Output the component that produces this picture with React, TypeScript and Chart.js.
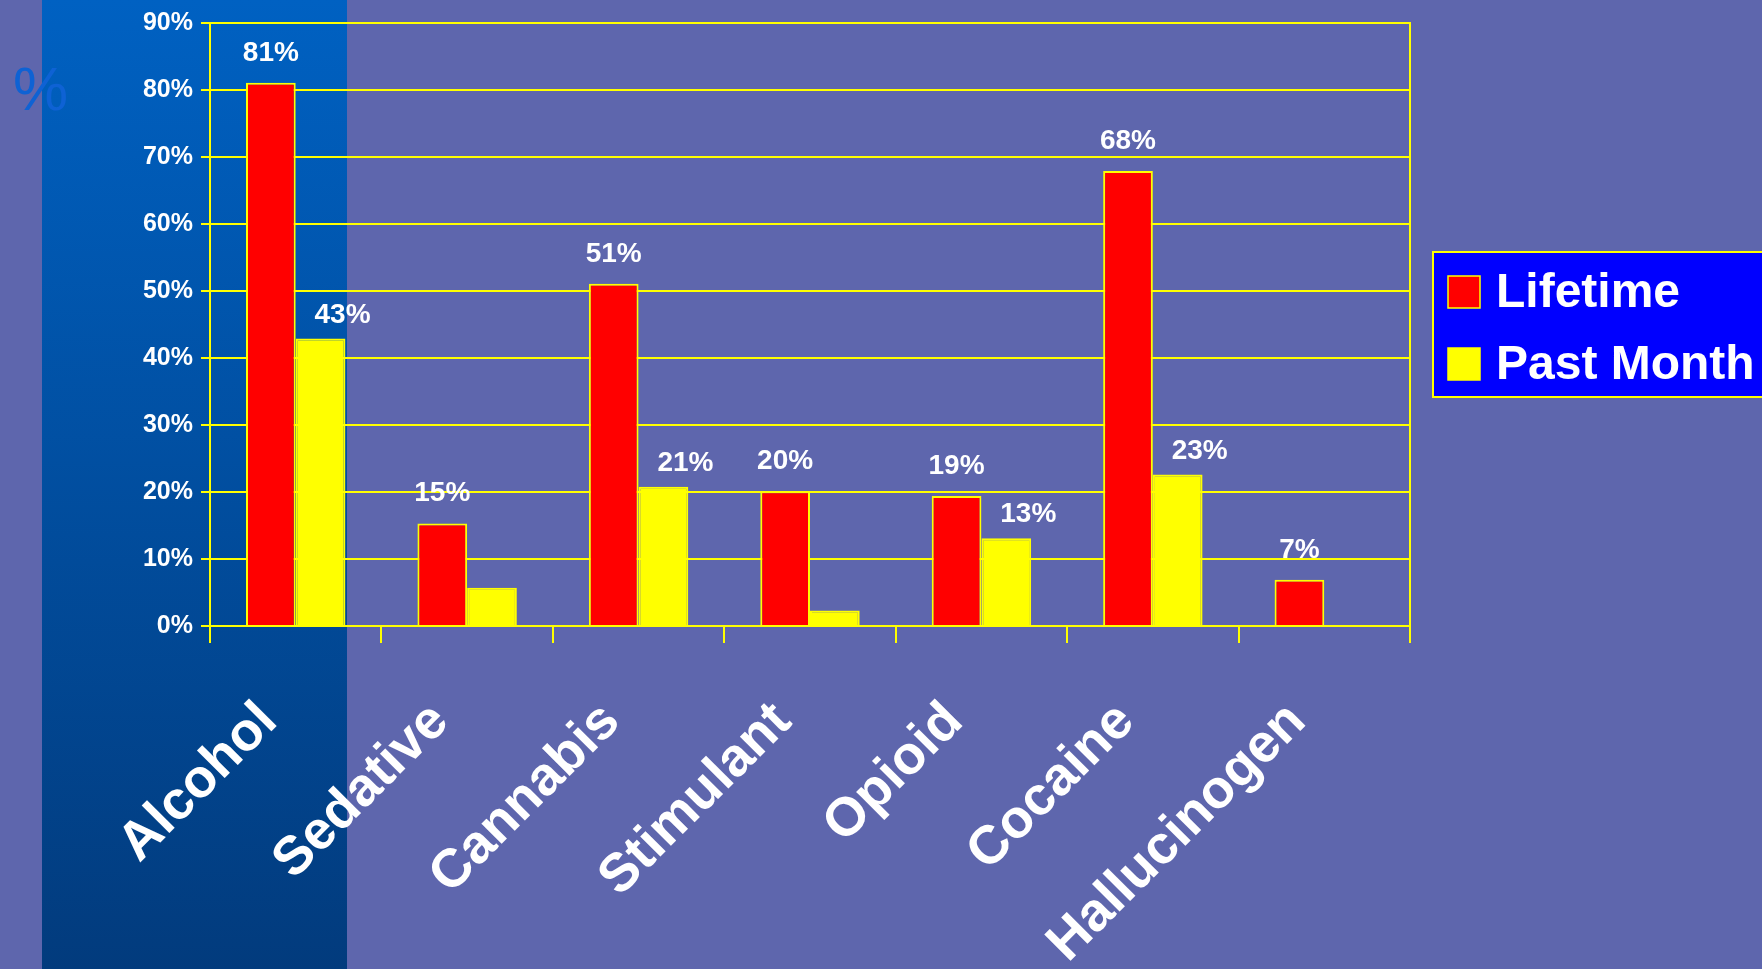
import React, { useEffect, useRef } from "react";
import { Chart, registerables } from "chart.js";

Chart.register(...registerables);

// ---- data ----
const categories = ["Alcohol", "Sedative", "Cannabis", "Stimulant", "Opioid", "Cocaine", "Hallucinogen"];
const lifetime = [81.1, 15.3, 51.1, 20.1, 19.4, 67.9, 6.9];
const pastMonth = [42.9, 5.7, 20.8, 2.3, 13.1, 22.6, 0];
const lifetimeLabels = ["81%", "15%", "51%", "20%", "19%", "68%", "7%"];
const pastMonthLabels = ["43%", "", "21%", "", "13%", "23%", ""];
const seriesNames = ["Lifetime", "Past Month"];
const yMin = 0;
const yMax = 90;
const yStep = 10;

// ---- styles ----
const FONT = '"Liberation Sans", Arial, Helvetica, sans-serif';
const YELLOW = "#FFFF00";
const RED = "#FF0000";
const WHITE = "#FFFFFF";
const PAGE_BG = "rgb(94,102,173)";

const dataLabelsPlugin = {
  id: "dataLabels",
  afterDatasetsDraw(chart: any) {
    const { ctx } = chart;
    const sets = [lifetimeLabels, pastMonthLabels];
    const offs = [
      { dx: 0, dy: 22 },
      { dx: 22, dy: 16 },
    ];
    ctx.save();
    ctx.fillStyle = WHITE;
    ctx.font = `bold 28px ${FONT}`;
    ctx.textAlign = "center";
    ctx.textBaseline = "alphabetic";
    chart.data.datasets.forEach((_: any, i: number) => {
      const meta = chart.getDatasetMeta(i);
      meta.data.forEach((bar: any, j: number) => {
        const t = sets[i][j];
        if (!t) return;
        ctx.fillText(t, bar.x + offs[i].dx, bar.y - offs[i].dy);
      });
    });
    ctx.restore();
  },
};

const framePlugin = {
  id: "frame",
  afterDraw(chart: any) {
    const { ctx, chartArea } = chart;
    ctx.save();
    ctx.strokeStyle = YELLOW;
    ctx.lineWidth = 2;
    ctx.beginPath();
    ctx.moveTo(chartArea.right, chartArea.top - 1);
    ctx.lineTo(chartArea.right, chartArea.bottom);
    ctx.stroke();
    ctx.restore();
  },
};

const legendPlugin = {
  id: "boxLegend",
  afterDraw(chart: any) {
    const { ctx } = chart;
    const bx = 1433, by = 252, bw = 345, bh = 145;
    ctx.save();
    ctx.fillStyle = "#0000FF";
    ctx.fillRect(bx, by, bw, bh);
    ctx.strokeStyle = YELLOW;
    ctx.lineWidth = 2;
    ctx.strokeRect(bx, by, bw, bh);
    chart.data.datasets.forEach((ds: any, i: number) => {
      const yc = 292 + i * 72;
      ctx.fillStyle = ds.backgroundColor;
      ctx.fillRect(1448, yc - 16, 32, 32);
      ctx.strokeStyle = YELLOW;
      ctx.lineWidth = 1.5;
      ctx.strokeRect(1448, yc - 16, 32, 32);
      ctx.fillStyle = WHITE;
      ctx.font = `bold 48px ${FONT}`;
      ctx.textAlign = "left";
      ctx.textBaseline = "middle";
      ctx.fillText(ds.label, 1496, yc + 2);
    });
    ctx.restore();
  },
};

export default function App() {
  const canvasRef = useRef<HTMLCanvasElement | null>(null);

  useEffect(() => {
    const canvas = canvasRef.current;
    if (!canvas) return;
    const chart = new Chart(canvas, {
      type: "bar",
      data: {
        labels: categories,
        datasets: [
          {
            label: seriesNames[0],
            data: lifetime,
            backgroundColor: RED,
            borderColor: YELLOW,
            borderWidth: 2,
            categoryPercentage: 0.58,
            barPercentage: 1.0,
          },
          {
            label: seriesNames[1],
            data: pastMonth,
            backgroundColor: YELLOW,
            borderColor: YELLOW,
            borderWidth: 2,
            categoryPercentage: 0.58,
            barPercentage: 1.0,
          },
        ],
      },
      options: {
        responsive: false,
        animation: false,
        layout: { padding: { left: 0, right: 352, top: 22, bottom: 0 } },
        plugins: {
          legend: { display: false },
          tooltip: { enabled: false },
        },
        scales: {
          x: {
            grid: {
              offset: true,
              drawOnChartArea: false,
              drawTicks: true,
              tickLength: 17,
              color: YELLOW,
              lineWidth: 2,
            },
            border: { color: YELLOW, width: 2 },
            ticks: {
              color: WHITE,
              font: { family: FONT, size: 54, weight: "bold" },
              minRotation: 45,
              maxRotation: 45,
              autoSkip: false,
              padding: 47,
              labelOffset: -27,
            },
            afterFit: (s: any) => {
              s.height = 343;
            },
          },
          y: {
            min: yMin,
            max: yMax,
            ticks: {
              stepSize: yStep,
              color: WHITE,
              font: { family: FONT, size: 25, weight: "bold" },
              padding: 8,
              callback: (v: any) => `${v}%`,
            },
            grid: { color: YELLOW, lineWidth: 2, tickLength: 9 },
            border: { color: YELLOW, width: 2 },
            afterFit: (s: any) => {
              s.width = 210;
            },
          },
        },
      },
      plugins: [dataLabelsPlugin, framePlugin, legendPlugin],
    } as any);
    return () => chart.destroy();
  }, []);

  return (
    <div
      style={{
        position: "fixed",
        left: 0,
        top: 0,
        width: 1762,
        height: 969,
        background: PAGE_BG,
        overflow: "hidden",
      }}
    >
      <div
        style={{
          position: "absolute",
          left: 42,
          top: 0,
          width: 305,
          height: 969,
          background: "linear-gradient(to bottom, #0061C2, #023B7D)",
        }}
      />
      <div
        style={{
          position: "absolute",
          left: 13,
          top: 57,
          fontFamily: FONT,
          fontSize: 62,
          lineHeight: "64px",
          color: "rgb(14,98,212)",
        }}
      >
        %
      </div>
      <canvas
        ref={canvasRef}
        width={1762}
        height={969}
        style={{ position: "absolute", left: 0, top: 0, width: 1762, height: 969 }}
      />
    </div>
  );
}
